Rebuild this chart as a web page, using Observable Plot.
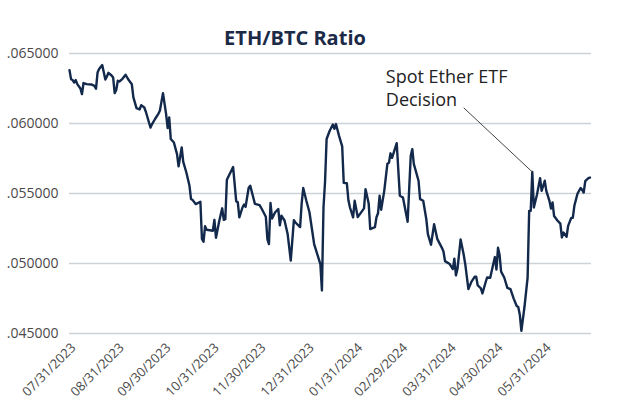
<!DOCTYPE html>
<html>
<head>
<meta charset="utf-8">
<script src="https://cdn.jsdelivr.net/npm/d3@7"></script>
<script src="https://cdn.jsdelivr.net/npm/@observablehq/plot@0.6"></script>
<style>
  html, body { margin: 0; padding: 0; background: #fff; }
  #wrap { position: relative; width: 629px; height: 404px; }
  #title { position: absolute; left: 0; top: 25px; width: 590px; text-align: center;
           font-family: "Open Sans", sans-serif; font-weight: 700; font-size: 20px; line-height: 26px; color: #1b2a47; }
</style>
</head>
<body>
<div id="wrap"><div id="title">ETH/BTC Ratio</div></div>
<script>
const dates = [
"2023-07-31","2023-08-01","2023-08-02","2023-08-03","2023-08-04","2023-08-05","2023-08-07","2023-08-08","2023-08-09","2023-08-11",
"2023-08-14","2023-08-16","2023-08-17","2023-08-18","2023-08-19","2023-08-21","2023-08-23","2023-08-24","2023-08-25","2023-08-27",
"2023-08-28","2023-08-29","2023-08-30","2023-08-31","2023-09-01","2023-09-03","2023-09-05","2023-09-07","2023-09-09","2023-09-10",
"2023-09-12","2023-09-14","2023-09-15","2023-09-17","2023-09-18","2023-09-20","2023-09-21","2023-09-22","2023-09-24","2023-09-26",
"2023-09-27","2023-09-29","2023-10-01","2023-10-02","2023-10-03","2023-10-04","2023-10-06","2023-10-08","2023-10-09","2023-10-11",
"2023-10-12","2023-10-14","2023-10-16","2023-10-17","2023-10-18","2023-10-20","2023-10-23","2023-10-24","2023-10-25","2023-10-26",
"2023-10-27","2023-10-31","2023-11-01","2023-11-02","2023-11-04","2023-11-06","2023-11-07","2023-11-08","2023-11-09","2023-11-13",
"2023-11-15","2023-11-16","2023-11-17","2023-11-19","2023-11-20","2023-11-21","2023-11-23","2023-11-24","2023-11-27","2023-11-30",
"2023-12-01","2023-12-04","2023-12-05","2023-12-06","2023-12-07","2023-12-08","2023-12-10","2023-12-12","2023-12-13","2023-12-14",
"2023-12-16","2023-12-18","2023-12-20","2023-12-22","2023-12-23","2023-12-26","2023-12-27","2023-12-28","2023-12-30","2024-01-01",
"2024-01-04","2024-01-07","2024-01-08","2024-01-09","2024-01-10","2024-01-11","2024-01-12","2024-01-14","2024-01-16","2024-01-17",
"2024-01-18","2024-01-20","2024-01-22","2024-01-23","2024-01-25","2024-01-26","2024-01-27","2024-01-29","2024-01-30","2024-02-01",
"2024-02-05","2024-02-06","2024-02-08","2024-02-09","2024-02-12","2024-02-13","2024-02-14","2024-02-15","2024-02-16","2024-02-18",
"2024-02-20","2024-02-21","2024-02-22","2024-02-23","2024-02-26","2024-02-28","2024-03-01","2024-03-04","2024-03-06","2024-03-07",
"2024-03-08","2024-03-11","2024-03-12","2024-03-14","2024-03-16","2024-03-17","2024-03-19","2024-03-21","2024-03-23","2024-03-26",
"2024-03-27","2024-03-28","2024-03-31","2024-04-02","2024-04-03","2024-04-04","2024-04-05","2024-04-07","2024-04-09","2024-04-10",
"2024-04-12","2024-04-14","2024-04-16","2024-04-17","2024-04-18","2024-04-20","2024-04-21","2024-04-23","2024-04-24","2024-04-26",
"2024-04-28","2024-04-29","2024-04-30","2024-05-01","2024-05-02","2024-05-03","2024-05-05","2024-05-07","2024-05-09","2024-05-11",
"2024-05-13","2024-05-14","2024-05-15","2024-05-16","2024-05-18","2024-05-20","2024-05-21","2024-05-22","2024-05-23","2024-05-24",
"2024-05-26","2024-05-28","2024-05-29","2024-05-31","2024-06-01","2024-06-03","2024-06-04","2024-06-05","2024-06-06","2024-06-08",
"2024-06-10","2024-06-11","2024-06-12","2024-06-14","2024-06-15","2024-06-17","2024-06-18","2024-06-19","2024-06-21","2024-06-23",
"2024-06-24","2024-06-25","2024-06-26","2024-06-28","2024-06-29"
];
const ratio = [
0.06381,0.06317,0.06310,0.06293,0.06310,0.06281,0.06250,0.06210,0.06289,0.06281,
0.06279,0.06269,0.06248,0.06364,0.06389,0.06417,0.06314,0.06336,0.06362,0.06343,
0.06329,0.06217,0.06239,0.06305,0.06300,0.06319,0.06348,0.06310,0.06281,0.06186,
0.06110,0.06100,0.06131,0.06114,0.06084,0.06007,0.05971,0.05996,0.06034,0.06069,
0.06091,0.06217,0.06067,0.05967,0.06043,0.05889,0.05864,0.05781,0.05694,0.05829,
0.05726,0.05650,0.05555,0.05460,0.05453,0.05424,0.05441,0.05176,0.05155,0.05266,
0.05241,0.05234,0.05312,0.05184,0.05298,0.05394,0.05312,0.05317,0.05598,0.05689,
0.05444,0.05439,0.05330,0.05400,0.05421,0.05405,0.05541,0.05555,0.05426,0.05417,
0.05398,0.05334,0.05174,0.05139,0.05432,0.05321,0.05366,0.05389,0.05273,0.05341,
0.05307,0.05210,0.05021,0.05310,0.05293,0.05260,0.05430,0.05539,0.05448,0.05366,
0.05139,0.05031,0.04996,0.04807,0.05400,0.05584,0.05889,0.05948,0.05993,0.05962,
0.05996,0.05912,0.05837,0.05576,0.05573,0.05451,0.05400,0.05330,0.05448,0.05331,
0.05394,0.05531,0.05429,0.05246,0.05259,0.05330,0.05359,0.05484,0.05384,0.05519,
0.05712,0.05719,0.05787,0.05755,0.05859,0.05484,0.05471,0.05298,0.05769,0.05817,
0.05710,0.05591,0.05460,0.05448,0.05316,0.05210,0.05134,0.05280,0.05176,0.05112,
0.05086,0.05017,0.04996,0.04960,0.05034,0.04915,0.04962,0.05171,0.05062,0.04994,
0.04817,0.04871,0.04905,0.04905,0.04843,0.04823,0.04786,0.04864,0.04900,0.04898,
0.04999,0.05046,0.04957,0.05112,0.05062,0.04942,0.04900,0.04826,0.04817,0.04751,
0.04696,0.04689,0.04634,0.04519,0.04691,0.04900,0.05376,0.05376,0.05654,0.05400,
0.05491,0.05610,0.05519,0.05591,0.05519,0.05448,0.05392,0.05436,0.05339,0.05309,
0.05285,0.05186,0.05221,0.05191,0.05269,0.05326,0.05326,0.05412,0.05498,0.05539,
0.05526,0.05507,0.05589,0.05610,0.05614
];
const yTicks = [0.065, 0.060, 0.055, 0.050, 0.045];
const xTickDates = ["2023-07-31","2023-08-31","2023-09-30","2023-10-31","2023-11-30","2023-12-31",
  "2024-01-31","2024-02-29","2024-03-31","2024-04-30","2024-05-31"];
const xDomain = ["2023-07-31","2024-06-30"];
const annotationLabel = "Spot Ether ETF\nDecision";
const annotationPoint = {date: "2024-05-23", value: 0.05654};
const annotationText = {date: "2024-02-19", value: 0.06259};
const annotationLineEnd = {date: "2024-04-09", value: 0.06112};

const parse = d3.utcParse("%Y-%m-%d");
const data = dates.map((d, i) => ({date: parse(d), value: ratio[i]}));
const annot = [{
  x1: parse(annotationLineEnd.date), y1: annotationLineEnd.value,
  x2: parse(annotationPoint.date), y2: annotationPoint.value,
  tx: parse(annotationText.date), ty: annotationText.value, label: annotationLabel
}];

const chart = Plot.plot({
  width: 629,
  height: 404,
  marginTop: 53,
  marginBottom: 71,
  marginLeft: 69,
  marginRight: 38,
  style: {fontFamily: "'Open Sans', sans-serif", background: "transparent", overflow: "visible"},
  x: {type: "utc", domain: xDomain.map(parse)},
  y: {domain: [0.045, 0.065]},
  marks: [
    Plot.gridY(yTicks, {stroke: "#cdd2d7", strokeOpacity: 1, strokeWidth: 1.5}),
    Plot.axisY(yTicks, {tickSize: 0, tickPadding: 11, label: null, fontSize: 14, fill: "#4a4a4a",
      tickFormat: d => d3.format(".6f")(d).slice(1)}),
    Plot.axisX(xTickDates.map(parse), {tickSize: 0, tickPadding: 12, tickRotate: -45, label: null,
      fontSize: 13, fill: "#4a4a4a", dx: 4, tickFormat: d3.utcFormat("%m/%d/%Y")}),
    Plot.lineY(data, {x: "date", y: "value", stroke: "#13294b", strokeWidth: 2.4}),
    Plot.link(annot, {x1: "x1", y1: "y1", x2: "x2", y2: "y2", stroke: "#444", strokeWidth: 1}),
    Plot.text(annot, {x: "tx", y: "ty", text: "label", textAnchor: "start", lineAnchor: "middle",
      lineHeight: 1.3, fontSize: 18, fill: "#222"})
  ]
});
document.getElementById("wrap").prepend(chart);
</script>
</body>
</html>
